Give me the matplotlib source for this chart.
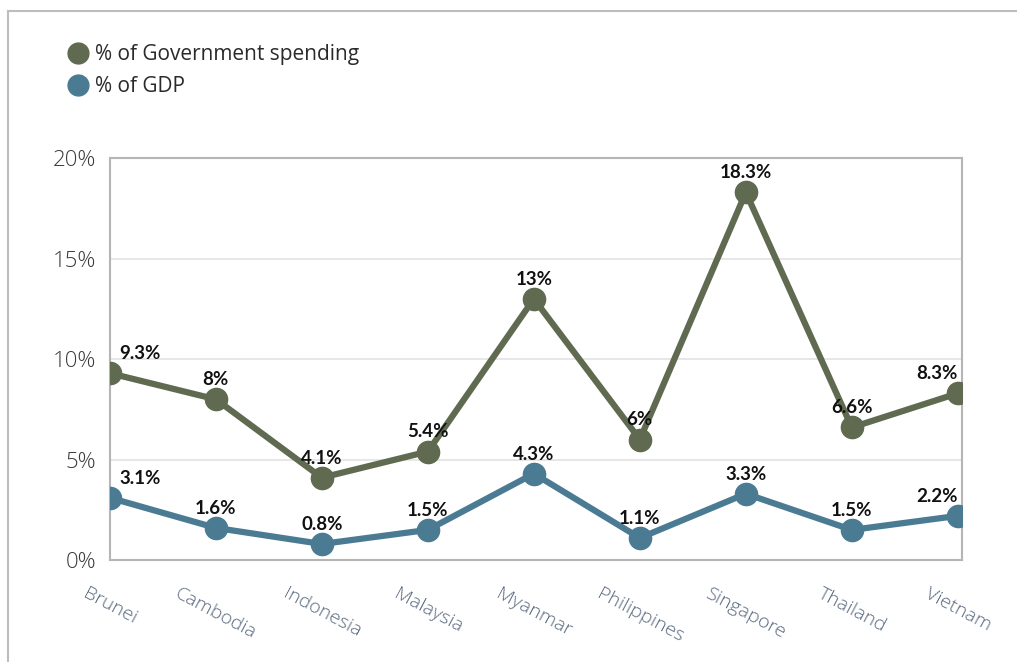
import matplotlib.pyplot as plt
from matplotlib.lines import Line2D

countries = ['Brunei', 'Cambodia', 'Indonesia', 'Malaysia', 'Myanmar',
             'Philippines', 'Singapore', 'Thailand', 'Vietnam']
gov_spending = [9.3, 8, 4.1, 5.4, 13, 6, 18.3, 6.6, 8.3]
gov_labels = ['9.3%', '8%', '4.1%', '5.4%', '13%', '6%', '18.3%', '6.6%', '8.3%']
gdp = [3.1, 1.6, 0.8, 1.5, 4.3, 1.1, 3.3, 1.5, 2.2]
gdp_labels = ['3.1%', '1.6%', '0.8%', '1.5%', '4.3%', '1.1%', '3.3%', '1.5%', '2.2%']
yticks = [0, 5, 10, 15, 20]

gov_color = '#5f6a50'
gdp_color = '#4b7b93'
tick_color = '#3a3a3a'
axis_grey = '#b5b5b5'

fig = plt.figure(figsize=(10.17, 6.62), dpi=100)
ax = fig.add_axes([0.108, 0.154, 0.838, 0.607])

x = list(range(len(countries)))
ax.plot(x, gov_spending, color=gov_color, lw=4.5, marker='o', ms=16, zorder=3)
ax.plot(x, gdp, color=gdp_color, lw=4.5, marker='o', ms=16, zorder=3)

# data labels
n = len(x)
for series, labels in [(gov_spending, gov_labels), (gdp, gdp_labels)]:
    for i, (v, lab) in enumerate(zip(series, labels)):
        if i == 0:
            ha, dx = 'left', 7
        elif i == n - 1:
            ha, dx = 'right', 0
        else:
            ha, dx = 'center', 0
        ax.annotate(lab, (i, v), xytext=(dx, 8), textcoords='offset points',
                    ha=ha, va='bottom', fontsize=13.5, fontweight='bold',
                    family='Lato', color='#111111', zorder=4)

ax.set_xlim(0, 8.04)
ax.set_ylim(0, 20)
ax.set_yticks(yticks)
ax.set_yticklabels([f'{t}%' for t in yticks], family='Open Sans',
                   fontsize=16, fontweight='light', color=tick_color)
ax.set_xticks(x)
ax.set_xticklabels(countries, rotation=-28, ha='center', family='Open Sans',
                   fontsize=14, fontweight='light', color='#5a6a80')
ax.tick_params(axis='both', length=0)
ax.tick_params(axis='x', pad=18)
ax.tick_params(axis='y', pad=10)

ax.grid(axis='y', color='#e3e3e3', lw=1.2)
ax.set_axisbelow(True)
for s in ax.spines.values():
    s.set_color(axis_grey)
    s.set_linewidth(1.5)

# legend
handles = [Line2D([], [], ls='none', marker='o', ms=15, color=gov_color),
           Line2D([], [], ls='none', marker='o', ms=15, color=gdp_color)]
fig.legend(handles, ['% of Government spending', '% of GDP'], loc='upper left',
           bbox_to_anchor=(0.05, 0.962), frameon=False, handlelength=0.8,
           handletextpad=0.4, labelspacing=0.55,
           prop={'family': 'Open Sans', 'size': 15}, labelcolor='#2a2a2a')

# outer frame lines (top and left)
fig.add_artist(Line2D([0.008, 1.0], [0.983, 0.983], color='#bdbdbd', lw=1.5))
fig.add_artist(Line2D([0.008, 0.008], [0.0, 0.983], color='#bdbdbd', lw=1.5))

fig.savefig('out.png', dpi=100)
